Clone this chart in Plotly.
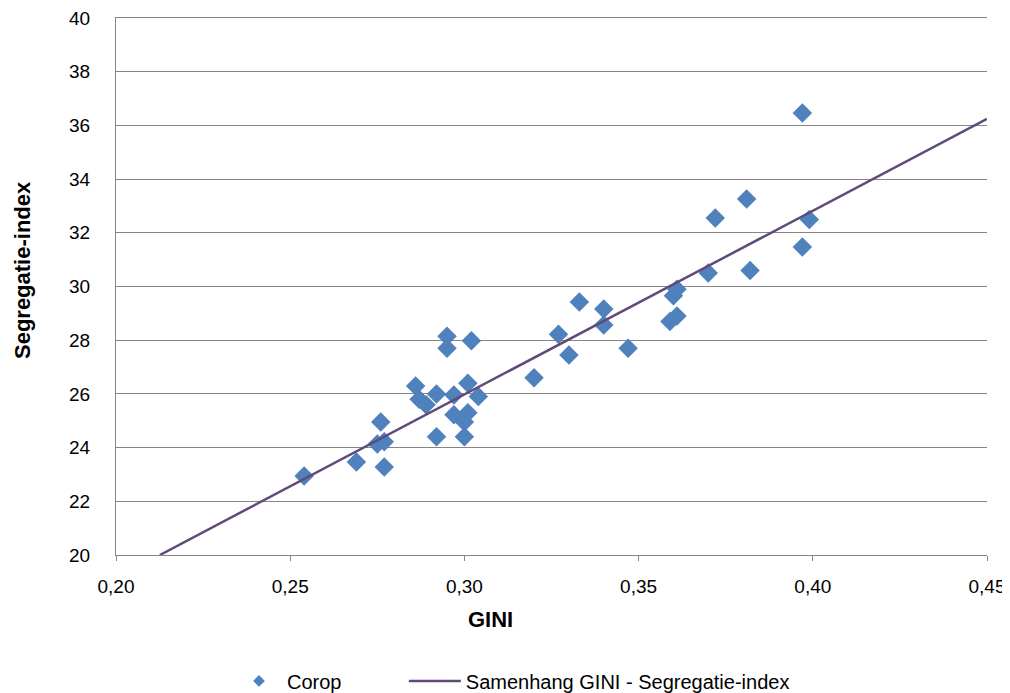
import plotly.graph_objects as go

gini = [0.254, 0.269, 0.277, 0.275, 0.277, 0.276, 0.286, 0.287, 0.289, 0.292,
        0.292, 0.295, 0.295, 0.297, 0.297, 0.300, 0.300, 0.301, 0.301, 0.302,
        0.304, 0.320, 0.327, 0.330, 0.333, 0.340, 0.340, 0.347, 0.360, 0.361,
        0.359, 0.361, 0.370, 0.372, 0.381, 0.382, 0.397, 0.399, 0.397]
segregatie = [22.94, 23.46, 23.28, 24.13, 24.22, 24.95, 26.29, 25.80, 25.60, 26.00,
              24.40, 28.15, 27.70, 25.96, 25.22, 24.95, 24.40, 25.30, 26.40, 27.98,
              25.90, 26.60, 28.22, 27.45, 29.42, 29.16, 28.57, 27.70, 29.66, 29.90,
              28.70, 28.90, 30.50, 32.55, 33.26, 30.60, 36.46, 32.50, 31.47]

trend_x = [0.2126, 0.45]
trend_y = [20.0, 36.24]

x_ticks = [0.20, 0.25, 0.30, 0.35, 0.40, 0.45]
x_tick_labels = ["0,20", "0,25", "0,30", "0,35", "0,40", "0,45"]
y_ticks = [20, 22, 24, 26, 28, 30, 32, 34, 36, 38, 40]

x_title = "GINI"
y_title = "Segregatie-index"

font_family = "Liberation Sans, Arial"
marker_color = "#4F81BD"

fig = go.Figure()
fig.add_trace(go.Scatter(
    x=gini, y=segregatie, mode="markers", name="Corop",
    marker=dict(symbol="diamond", size=15, color=marker_color, line=dict(width=0)),
    showlegend=False,
))
# legend entry for the scatter (smaller symbol, as in the reference legend)
fig.add_trace(go.Scatter(
    x=[None], y=[None], mode="markers", name="Corop",
    marker=dict(symbol="diamond", size=9, color=marker_color, line=dict(width=0)),
    legend="legend",
))
fig.add_trace(go.Scatter(
    x=trend_x, y=trend_y, mode="lines", name="Samenhang GINI - Segregatie-index",
    line=dict(color="#604A7B", width=2.5),
    legend="legend2",
))

fig.update_layout(
    width=1010, height=693,
    margin=dict(l=108, r=31, t=10, b=146),
    paper_bgcolor="white", plot_bgcolor="white",
    font=dict(family=font_family, size=19, color="#000000"),
    showlegend=True,
    legend=dict(x=0.132, xanchor="left", yref="container", y=0.0289, yanchor="middle",
                font=dict(size=20), itemwidth=46, bgcolor="rgba(0,0,0,0)"),
    legend2=dict(x=0.3305, xanchor="left", yref="container", y=0.0289, yanchor="middle",
                 font=dict(size=20), itemwidth=52, bgcolor="rgba(0,0,0,0)"),
    xaxis=dict(
        range=[0.20, 0.45], tickvals=x_ticks, ticktext=x_tick_labels,
        showgrid=False, zeroline=False, showline=True, linecolor="#868686",
        linewidth=1, mirror=True, ticks="outside", ticklen=5, tickcolor="#868686",
        tickfont=dict(size=19), automargin=False, ticklabelstandoff=9,
        ticklabeloverflow="allow",
    ),
    yaxis=dict(
        range=[20, 40], tickvals=y_ticks,
        showgrid=True, gridcolor="#868686", gridwidth=1, zeroline=False,
        showline=True, linecolor="#868686", linewidth=1,
        ticks="outside", ticklen=0,
        tickfont=dict(size=19), automargin=False, ticklabelstandoff=21,
        ticklabeloverflow="allow",
    ),
    annotations=[
        dict(text="<b>" + x_title + "</b>", xref="paper", yref="paper",
             x=0.4294, y=-0.1200, xanchor="center", yanchor="middle",
             showarrow=False, font=dict(size=22)),
        dict(text="<b>" + y_title + "</b>", xref="paper", yref="paper",
             x=-0.1079, y=0.5307, xanchor="center", yanchor="middle",
             textangle=-90, showarrow=False, font=dict(size=22)),
    ],
)

fig.write_html("out.html")
